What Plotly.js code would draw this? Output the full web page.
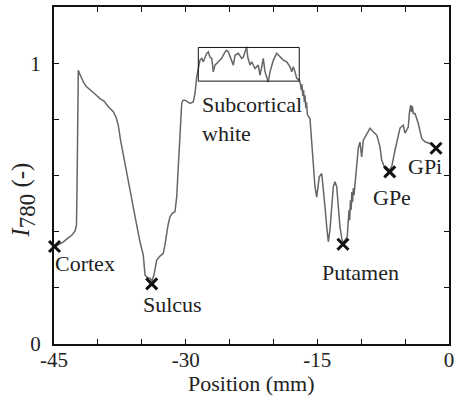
<!DOCTYPE html>
<html>
<head>
<meta charset="utf-8">
<script src="https://cdn.plot.ly/plotly-3.0.1.min.js"></script>
<style>html,body{margin:0;padding:0;background:#fff;}#chart{width:457px;height:396px;}</style>
</head>
<body>
<div id="chart"></div>
<script>
// Position (mm) and normalized intensity I780 along the trajectory
const positionMm = [
-45.00,-44.54,-43.97,-43.41,-42.95,-42.61,-42.44,-42.38,-42.35,-42.31,-42.23,-42.10,-41.92,-41.66,-41.35,-40.90,-40.33,-39.76,-39.30,-38.81,
-38.24,-37.94,-37.68,-37.42,-37.11,-36.74,-36.34,-36.00,-35.58,-35.20,-34.83,-34.63,-34.41,-34.06,-33.84,-33.61,-33.49,-33.30,-32.92,-32.55,
-32.36,-32.16,-32.01,-31.79,-31.50,-31.22,-31.02,-30.84,-30.65,-30.45,-30.31,-30.08,-29.73,-29.51,-29.13,-28.94,-28.74,-28.56,
-28.37,-28.17,-27.99,-27.60,-27.42,-27.23,-27.03,-26.85,-26.66,-26.28,-25.90,-25.52,-25.33,-25.14,-24.95,-24.76,-24.57,-24.38,-24.00,-23.62,
-23.43,-23.24,-23.05,-22.93,-22.67,-22.48,-22.10,-21.73,-21.53,-21.34,-21.16,-20.96,-20.77,-20.59,-20.39,-20.01,-19.63,-19.25,-18.88,-18.49,
-18.11,-17.92,-17.74,-17.54,-17.35,-17.06,
-16.92,-16.83,-16.75,-16.66,-16.57,-16.48,-16.40,-16.31,-16.23,-16.14,-16.03,-15.84,-15.64,-15.46,-15.27,-15.07,-14.93,-14.78,-14.50,-14.32,
-14.13,-13.93,-13.75,-13.56,-13.36,-13.18,-12.99,-12.79,-12.61,-12.42,-12.22,-12.04,-11.85,-11.59,
-11.47,-11.39,-11.31,-11.23,-11.15,-11.07,-10.99,-10.90,-10.82,-10.71,-10.51,-10.33,-10.14,-9.95,-9.76,-9.37,-9.00,-8.63,-8.24,-8.06,
-7.86,-7.67,-7.29,-6.92,-6.53,-6.15,-5.78,-5.58,-5.21,-5.01,-4.82,-4.64,-4.50,-4.36,-4.27,-4.18,-4.07,-3.87,-3.50,-3.11,
-2.74,-2.17,-1.82,-1.40
];
const intensity = [
0.345,0.352,0.363,0.377,0.388,0.402,0.423,0.548,0.726,0.868,0.975,0.964,0.950,0.933,0.918,0.904,0.890,0.874,0.865,0.845,
0.827,0.808,0.779,0.726,0.673,0.612,0.554,0.495,0.423,0.363,0.317,0.246,0.238,0.234,0.224,0.246,0.274,0.299,0.313,0.323,
0.352,0.394,0.423,0.453,0.466,0.471,0.524,0.631,0.750,0.857,0.868,0.868,0.861,0.857,0.862,0.892,0.951,0.987,
1.011,1.017,1.005,1.035,1.040,1.022,1.017,0.969,0.993,1.005,1.017,1.040,1.046,1.040,1.022,1.005,0.993,1.028,1.035,1.017,
1.022,1.040,1.058,1.022,0.993,1.005,0.981,0.993,0.957,0.987,1.017,0.969,0.951,0.933,0.969,1.011,1.035,1.022,1.011,1.005,
0.987,0.969,0.987,0.969,0.946,0.940,
0.925,0.904,0.925,0.883,0.904,0.861,0.886,0.840,0.861,0.819,0.811,0.804,0.726,0.631,0.560,0.523,0.566,0.595,0.607,0.560,
0.489,0.417,0.364,0.406,0.489,0.560,0.578,0.560,0.489,0.417,0.376,0.359,0.370,0.382,
0.441,0.477,0.441,0.512,0.477,0.541,0.505,0.555,0.530,0.572,0.631,0.698,0.719,0.666,0.726,0.750,0.768,0.756,0.744,0.726,
0.702,0.655,0.625,0.613,0.631,0.690,0.738,0.769,0.779,0.751,0.762,0.773,0.826,0.851,0.826,0.847,0.821,0.821,0.785,0.732,
0.720,0.714,0.705,0.696
];

// Marked structures
const regionNames = ["Cortex","Sulcus","Putamen","GPe","GPi"];
const regionX = [-44.94,-33.87,-12.08,-6.75,-1.48];
const regionY = [0.347,0.214,0.355,0.613,0.697];

// Label positions (data coordinates)
const labelText = ["Cortex","Sulcus","Subcortical<br>white","Putamen","GPe","GPi"];
const labelX = [-41.50,-31.50,-28.40,-10.08,-6.44,-2.79];
const labelY = [0.288,0.139,0.801,0.256,0.520,0.633];
const labelAnchor = ["center","center","left","center","center","center"];

// Subcortical white window
const boxX = [-28.56,-17.06];
const boxY = [0.936,1.056];

const xTickVals = [-45,-40,-35,-30,-25,-20,-15,-10,-5,0];
const xTickText = ["-45","","","-30","","","-15","","","0"];
const yTickVals = [0,0.2,0.4,0.6,0.8,1.0,1.2];
const yTickText = ["0","","","","","1",""];

const serif = "Liberation Serif, Times New Roman, serif";

const traces = [
  {x: positionMm, y: intensity, type: "scatter", mode: "lines",
   line: {color: "#666666", width: 1.5}, hoverinfo: "skip", showlegend: false},
  {x: regionX, y: regionY, type: "scatter", mode: "markers", text: regionNames,
   marker: {symbol: "x-thin", size: 11, color: "#111", line: {width: 3, color: "#111"}},
   cliponaxis: false, showlegend: false}
];

const annotations = labelText.map((t, i) => ({
  x: labelX[i], y: labelY[i], xref: "x", yref: "y", text: t, showarrow: false,
  xanchor: labelAnchor[i], yanchor: "middle", align: "left",
  font: {family: serif, size: 22, color: "#222"}
}));
annotations.push({
  xref: "paper", yref: "paper", x: -0.077, y: 0.427, textangle: -90,
  text: "<i>I</i><sub><span style=\"font-size:23px\">780</span></sub> (-)", showarrow: false,
  xanchor: "center", yanchor: "middle",
  font: {family: serif, size: 25, color: "#222"}
});
annotations.push({
  xref: "paper", yref: "paper", x: 0.5, y: 0, yshift: -39,
  text: "Position (mm)", showarrow: false, xanchor: "center", yanchor: "middle",
  font: {family: serif, size: 22, color: "#222"}
});

const axisCommon = {
  showgrid: false, zeroline: false, showline: true, linecolor: "#111", linewidth: 2,
  mirror: "ticks", ticks: "inside", ticklen: 5, tickwidth: 1.2, tickcolor: "#111",
  tickfont: {family: serif, size: 21, color: "#222"}
};

const layout = {
  width: 457, height: 396,
  margin: {l: 54, r: 8, t: 7, b: 52},
  paper_bgcolor: "#fff", plot_bgcolor: "#fff",
  font: {family: serif},
  xaxis: Object.assign({}, axisCommon, {range: [-45, 0], tickmode: "array",
    tickvals: xTickVals, ticktext: xTickText, ticklabelstandoff: -4}),
  yaxis: Object.assign({}, axisCommon, {range: [0, 1.2], tickmode: "array",
    tickvals: yTickVals, ticktext: yTickText, ticklabelstandoff: 7}),
  shapes: [{type: "rect", xref: "x", yref: "y", x0: boxX[0], x1: boxX[1], y0: boxY[0], y1: boxY[1],
    line: {color: "#111", width: 1}}],
  annotations: annotations,
  showlegend: false
};

Plotly.newPlot("chart", traces, layout, {staticPlot: true, displayModeBar: false});
</script>
</body>
</html>
